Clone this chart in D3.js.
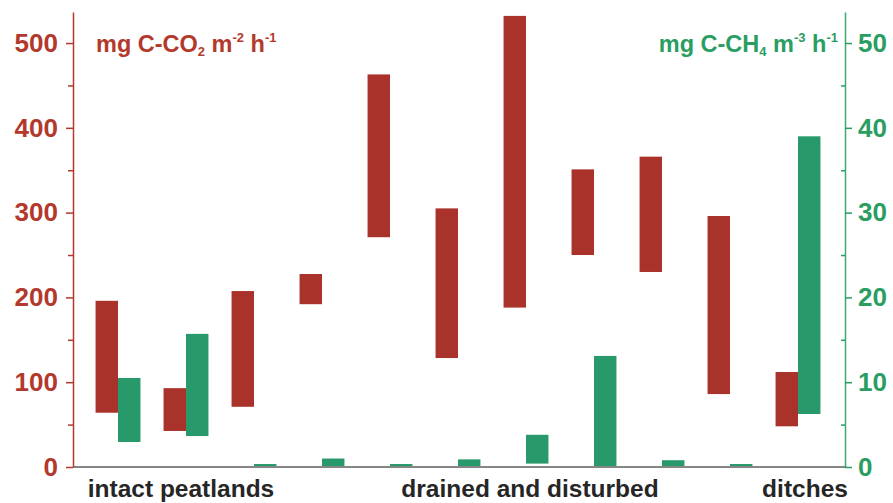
<!DOCTYPE html>
<html><head><meta charset="utf-8">
<script src="https://cdn.jsdelivr.net/npm/d3@7/dist/d3.min.js"></script>
<style>body{margin:0;background:#fff}svg{display:block}</style>
</head><body>
<script>
// ---- data ----
const sites = ["1","2","3","4","5","6","7","8","9","10","11"];
const co2Low  = [64, 42.5, 71, 192, 271, 128.5, 188, 250, 230, 86, 48];
const co2High = [196, 93, 207.5, 227.6, 463, 305, 532, 351, 366, 296, 112];
const ch4Low  = [2.95, 3.65, 0, 0, 0, 0, 0.4, 0, 0, 0, 6.25];
const ch4High = [10.5, 15.7, 0.35, 1.0, 0.35, 0.9, 3.8, 13.1, 0.8, 0.35, 39.0];
const co2Ticks = [0, 100, 200, 300, 400, 500];
const co2Minor = [50, 150, 250, 350, 450];
const ch4Ticks = [0, 10, 20, 30, 40, 50];
const ch4Minor = [5, 15, 25, 35, 45];
const groupLabels = ["intact peatlands", "drained and disturbed", "ditches"];
const groupFirst = [0, 3, 10];
const groupLast  = [2, 9, 10];

const W = 893, H = 503;
const RED = "#a9332a", GREEN = "#27996a";
const RED_TXT = "#b3392d", GREEN_TXT = "#2a9d62";
const FONT = "'Liberation Sans', Arial, Helvetica, sans-serif";
const labelShift = [-5, 4, 7];

const svg = d3.select("body").append("svg").attr("width", W).attr("height", H)
  .style("font-family", FONT);

const x = d3.scaleBand().domain(sites).range([84, 832]).paddingInner(0.34).paddingOuter(0.17);
const x1 = d3.scaleBand().domain(["co2", "ch4"]).range([0, x.bandwidth()]);
const yL = d3.scaleLinear().domain([0, 536.6]).range([467, 12]);
const yR = d3.scaleLinear().domain([0, 53.66]).range([467, 12]);

// bars
const g = svg.append("g");
g.selectAll("rect.co2").data(sites).join("rect").attr("class", "co2")
  .attr("x", (d) => x(d) + x1("co2"))
  .attr("width", x1.bandwidth())
  .attr("y", (d, i) => yL(co2High[i]))
  .attr("height", (d, i) => yL(co2Low[i]) - yL(co2High[i]))
  .attr("fill", RED);
g.selectAll("rect.ch4").data(sites).join("rect").attr("class", "ch4")
  .attr("x", (d) => x(d) + x1("ch4"))
  .attr("width", x1.bandwidth())
  .attr("y", (d, i) => yR(ch4High[i]))
  .attr("height", (d, i) => yR(ch4Low[i]) - yR(ch4High[i]))
  .attr("fill", GREEN);

// baseline
svg.append("line").attr("x1", 73).attr("x2", 845).attr("y1", yL(0)).attr("y2", yL(0))
  .attr("stroke", "#858585").attr("stroke-width", 2);

// left axis
const axL = svg.append("g").attr("transform", "translate(73,0)")
  .call(d3.axisLeft(yL).tickValues(co2Ticks).tickSize(7).tickSizeOuter(0).tickPadding(8));
svg.append("g").attr("transform", "translate(73,0)")
  .call(d3.axisLeft(yL).tickValues(co2Minor).tickSize(5).tickSizeOuter(0).tickFormat(""))
  .call(s => s.select(".domain").remove())
  .selectAll("line").attr("stroke", RED_TXT).attr("stroke-width", 1.5);
axL.select(".domain").attr("stroke", RED_TXT).attr("stroke-width", 1.5);
axL.selectAll(".tick line").attr("stroke", RED_TXT).attr("stroke-width", 1.5);
axL.selectAll(".tick text").attr("fill", RED_TXT).style("font-size", "26px")
  .style("font-weight", "bold").style("font-family", FONT);

// right axis
const axR = svg.append("g").attr("transform", "translate(845,0)")
  .call(d3.axisRight(yR).tickValues(ch4Ticks).tickSize(7).tickSizeOuter(0).tickPadding(6));
svg.append("g").attr("transform", "translate(845,0)")
  .call(d3.axisLeft(yR).tickValues(ch4Minor).tickSize(4).tickSizeOuter(0).tickFormat(""))
  .call(s => s.select(".domain").remove())
  .selectAll("line").attr("stroke", GREEN_TXT).attr("stroke-width", 1.5);
axR.select(".domain").attr("stroke", "#3aaa72").attr("stroke-width", 1.5);
axR.selectAll(".tick line").attr("stroke", GREEN_TXT).attr("stroke-width", 1.5);
axR.selectAll(".tick text").attr("fill", GREEN_TXT).style("font-size", "26px")
  .style("font-weight", "bold").style("font-family", FONT);

// unit titles
function unitTitle(xPos, anchor, color, parts) {
  const t = svg.append("text").attr("x", xPos).attr("y", 52).attr("text-anchor", anchor)
    .attr("fill", color).style("font-size", "23.5px").style("font-weight", "bold");
  parts.forEach(p => {
    const ts = t.append("tspan").text(p.t);
    if (p.sub) ts.style("font-size", "13px").attr("dy", 4);
    if (p.sup) ts.style("font-size", "13px").attr("dy", -10);
    if (p.back) ts.attr("dy", p.back);
  });
}
unitTitle(96, "start", RED_TXT, [
  {t: "mg C-CO"}, {t: "2", sub: true}, {t: " m", back: -4}, {t: "-2", sup: true},
  {t: " h", back: 10}, {t: "-1", sup: true}
]);
unitTitle(838, "end", GREEN_TXT, [
  {t: "mg C-CH"}, {t: "4", sub: true}, {t: " m", back: -4}, {t: "-3", sup: true},
  {t: " h", back: 10}, {t: "-1", sup: true}
]);

// category group labels
svg.append("g").selectAll("text").data(groupLabels).join("text")
  .attr("x", (d, i) => (x(sites[groupFirst[i]]) + x(sites[groupLast[i]]) + x.bandwidth()) / 2 + labelShift[i])
  .attr("y", 497).attr("text-anchor", "middle")
  .attr("fill", "#262626").style("font-size", "24.5px").style("font-weight", "bold")
  .text(d => d);
</script>
</body></html>
